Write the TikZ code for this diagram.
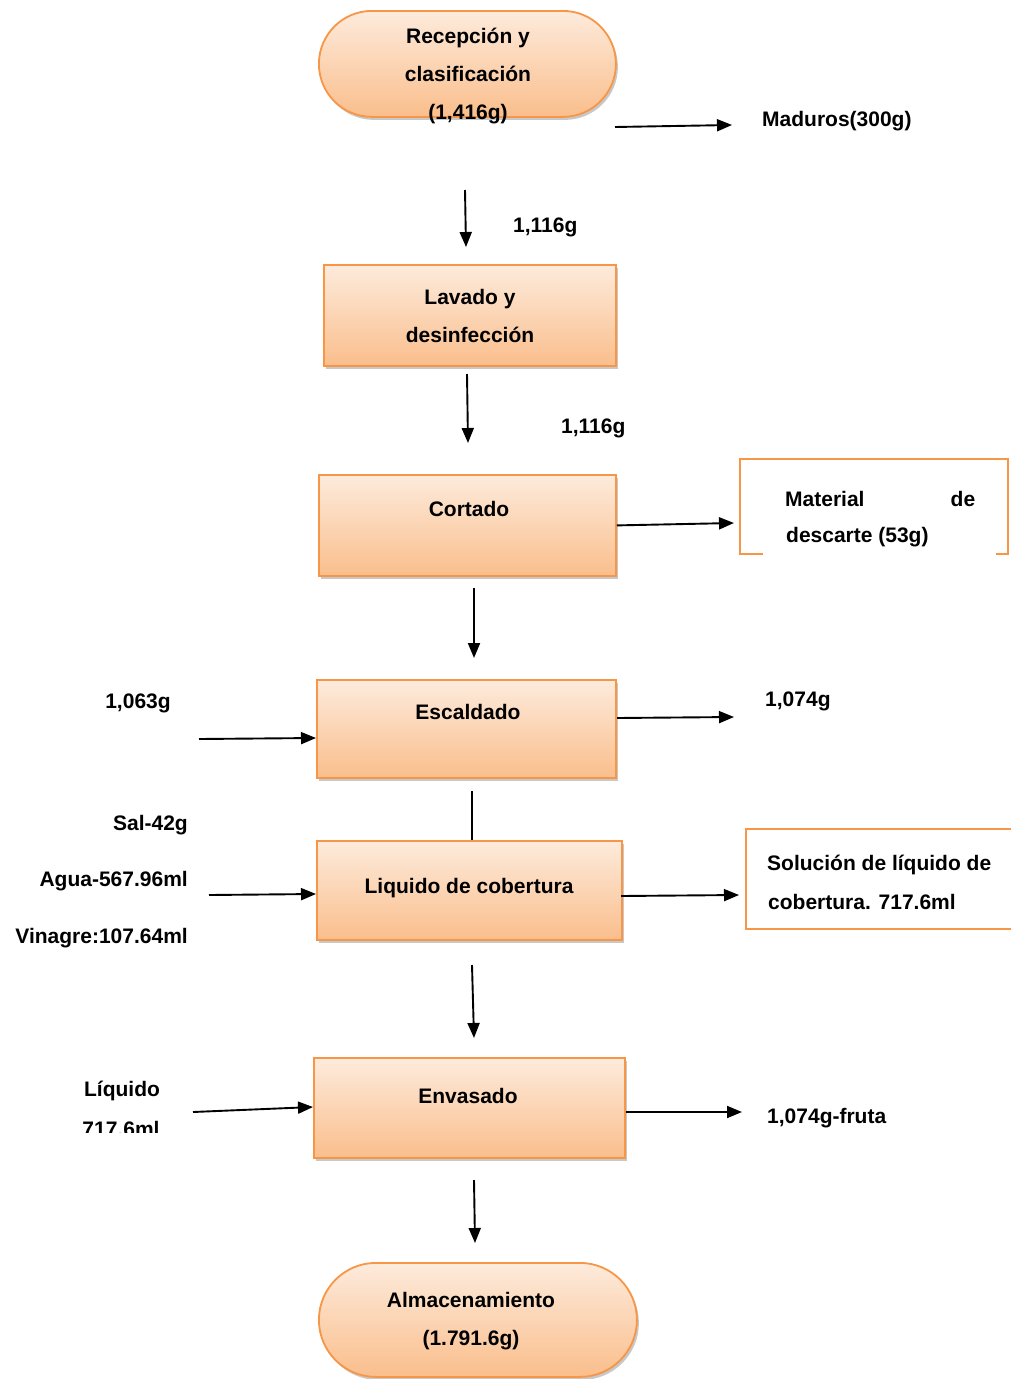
\documentclass[tikz,border=0pt]{standalone}
\usepackage{fontspec}
\setmainfont{Liberation Sans}
\usetikzlibrary{arrows.meta,shadows}
\definecolor{boxtop}{RGB}{253,235,220}
\definecolor{boxbot}{RGB}{250,190,140}
\definecolor{boxline}{RGB}{247,150,70}

\begin{document}
\begin{tikzpicture}[x=1pt,y=-1pt,
  txt/.style={font=\fontsize{21}{38}\selectfont\bfseries, inner sep=0pt, align=center},
  stepbox/.style={draw=boxline, line width=1.8pt, top color=boxtop, bottom color=boxbot,
    drop shadow={shadow xshift=2pt, shadow yshift=-3pt, opacity=0.3, fill=black!70},
    inner sep=0pt, anchor=north west},
  pill/.style={stepbox, rounded corners=#1},
  flow/.style={line width=1.9pt, -{Triangle[length=15pt,width=12pt]}},
  plain/.style={line width=1.9pt},
  outbox/.style={draw=boxline, line width=1.8pt},
]
\clip (0,0) rectangle (1011,1379);
\fill[white] (0,0) rectangle (1011,1379);

% process boxes
\node[pill=53pt, minimum width=297pt, minimum height=106pt] (rec) at (318,10) {};
\node[stepbox, minimum width=292pt, minimum height=101pt] (lav) at (323,264) {};
\node[stepbox, minimum width=297pt, minimum height=101pt] (cor) at (318,474) {};
\node[stepbox, minimum width=299pt, minimum height=98pt]  (esc) at (316,679) {};
\node[stepbox, minimum width=305pt, minimum height=99pt]  (liq) at (316,840) {};
\node[stepbox, minimum width=311pt, minimum height=100pt] (env) at (313,1057) {};
\node[pill=57pt, minimum width=318pt, minimum height=114pt] (alm) at (318,1262) {};

% box labels
\node[txt] (trec) at (468,76) {Recepción y\\clasificación\\(1,416g)};
\node[txt] (tlav) at (470,316) {Lavado y\\desinfección};
\node[txt] (tcor) at (469,509) {Cortado};
\node[txt] (tesc) at (468,712) {Escaldado};
\node[txt] (tliq) at (469,888) {Liquido de cobertura};
\node[txt] (tenv) at (468,1096) {Envasado};
\node[txt] (talm) at (471,1321) {Almacenamiento\\(1.791.6g)};

% side boxes
\draw[outbox] (763,554) -- (740,554) -- (740,459) -- (1008,459) -- (1008,554) -- (996,554);
\node[txt, anchor=west] (mat1) at (785,499) {\hbox to 190pt{Material\hfill de}};
\node[txt, anchor=west] (mat2) at (786,537) {descarte (53g)};

\draw[outbox] (1020,829) -- (746,829) -- (746,929) -- (1020,929);
\node[txt, anchor=west] (sol1) at (767,865) {Solución de líquido de};
\node[txt, anchor=west] (sol2) at (768,902) {cobertura. 717.6ml};

% flow labels
\node[txt, anchor=west] (mad) at (762,121) {Maduros(300g)};
\node[txt, anchor=west] (m1) at (513,227) {1,116g};
\node[txt, anchor=west] (m2) at (561,428) {1,116g};
\node[txt] (inesc) at (138,703) {1,063g};
\node[txt, anchor=west] (outesc) at (765,701) {1,074g};
\node[txt, anchor=east] (sal) at (188,825) {Sal-42g};
\node[txt, anchor=east] (agua) at (188,881) {Agua-567.96ml};
\node[txt, anchor=east] (vin) at (188,938) {Vinagre:107.64ml};
\node[txt] (liqin1) at (122,1091) {Líquido};
\begin{scope}
  \clip (60,1100) rectangle (200,1132);
  \node[txt] (liqin2) at (121,1129) {717.6ml};
\end{scope}
\node[txt, anchor=west] (fruta) at (767,1118) {1,074g-fruta};

% connector ends
\coordinate (a1) at (615,127);  \coordinate (a2) at (732,125);
\coordinate (b1) at (465,190);  \coordinate (b2) at (466,247);
\coordinate (c1) at (467,374);  \coordinate (c2) at (468,443);
\coordinate (d2) at (734,523);
\coordinate (e1) at (474,588);  \coordinate (e2) at (474,658);
\coordinate (f1) at (199,739);  \coordinate (f2) at (316,738);
\coordinate (g1) at (617,718);  \coordinate (g2) at (734,717);
\coordinate (h1) at (472,791);  \coordinate (h2) at (472,840);
\coordinate (i1) at (209,895);  \coordinate (i2) at (316,894);
\coordinate (j1) at (621,896);  \coordinate (j2) at (739,895);
\coordinate (k1) at (472,965);  \coordinate (k2) at (474,1038);
\coordinate (l1) at (193,1112); \coordinate (l2) at (313,1107);
\coordinate (n1) at (626,1112); \coordinate (n2) at (742,1112);
\coordinate (o1) at (474,1180); \coordinate (o2) at (475,1243);

% connectors
\draw[flow] (a1) -- (a2);
\draw[flow] (b1) -- (b2);
\draw[flow] (c1) -- (c2);
\draw[flow] (cor.east) -- (d2);
\draw[flow] (e1) -- (e2);
\draw[flow] (f1) -- (f2);
\draw[flow] (g1) -- (g2);
\draw[plain] (h1) -- (h2);
\draw[flow] (i1) -- (i2);
\draw[flow] (j1) -- (j2);
\draw[flow] (k1) -- (k2);
\draw[flow] (l1) -- (l2);
\draw[flow] (n1) -- (n2);
\draw[flow] (o1) -- (o2);
\end{tikzpicture}
\end{document}
